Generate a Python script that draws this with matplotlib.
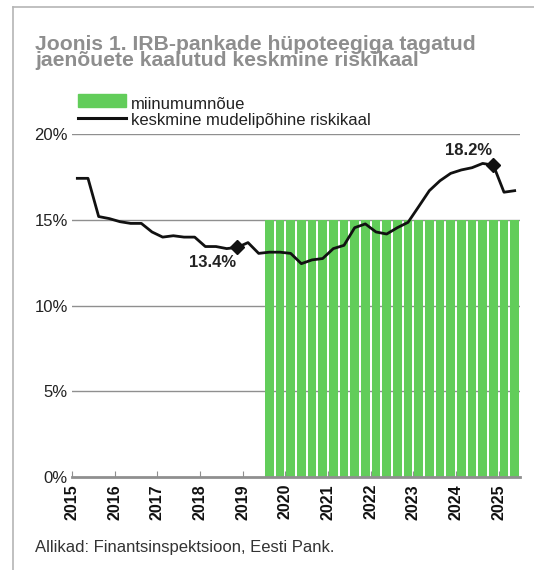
import numpy as np
import matplotlib.pyplot as plt
from matplotlib.patches import Rectangle
from matplotlib.lines import Line2D

plt.rcParams['font.family'] = ['Liberation Sans', 'DejaVu Sans']

# -----------------------------
# DATA (quarterly, 2015Q1 .. 2025Q2)
# -----------------------------

years = list(range(2015, 2026))
quarters = [f"{y}Q{q}" for y in years for q in range(1, 5)][:42]

risk_weight = [17.43, 17.43, 15.2, 15.08, 14.9, 14.8, 14.8, 14.3, 14.0, 14.08,
               14.0, 14.0, 13.45, 13.45, 13.33, 13.4, 13.68, 13.05, 13.12, 13.12,
               13.05, 12.45, 12.67, 12.75, 13.33, 13.52, 14.55, 14.77, 14.3, 14.18,
               14.55, 14.86, 15.78, 16.71, 17.29, 17.72, 17.92, 18.05, 18.3, 18.2,
               16.62, 16.71]

min_req = [np.nan] * 18 + [15.0] * 24

marked = {"2018Q4": "13.4%", "2024Q4": "18.2%"}

yticks = [0, 5, 10, 15, 20]

# -----------------------------
# COLOURS
# -----------------------------

green = "#62cd5a"
grey = "#8f8f8f"
title_grey = "#8e8e8e"

# -----------------------------
# FIGURE
# -----------------------------

W, H = 534, 570
fig = plt.figure(figsize=(W / 100, H / 100), dpi=100)
ax = fig.add_axes([72 / W, 1 - 477 / H, 448 / W, (477 - 134.3) / H])

x = np.arange(len(quarters))

ax.bar(x, min_req, width=0.82, color=green, zorder=2)
ax.plot(x, risk_weight, color="#111111", lw=2.0, zorder=3, solid_joinstyle="round")

for q, txt in marked.items():
    i = quarters.index(q)
    ax.plot(i, risk_weight[i], marker="D", ms=7.5, color="#111111", zorder=4)
    dy = -15 if txt == "13.4%" else 15
    ax.annotate(txt, (i, risk_weight[i]), xytext=(-25, dy), textcoords="offset pixels",
                ha="center", va="center", fontsize=12, fontweight="bold",
                color="#222222", annotation_clip=False)

ax.set_xlim(-0.5, len(quarters) - 0.5)
ax.set_ylim(0, 20)

ax.set_yticks(yticks)
ax.set_yticklabels([f"{v}%" for v in yticks], fontsize=12, color="#222222")
ax.tick_params(axis="y", length=0, pad=3)
for v in yticks[1:]:
    ax.axhline(v, color=grey, lw=1.0, zorder=1)

tick_pos = [4 * k - 0.5 for k in range(len(years))]
ax.set_xticks(tick_pos)
ax.set_xticklabels([str(y) for y in years], rotation=90, fontsize=11.5,
                   fontweight="bold", color="#111111")
ax.tick_params(axis="x", direction="in", length=4, color=grey, pad=5)

for s in ["top", "right", "left"]:
    ax.spines[s].set_visible(False)
ax.spines["bottom"].set_color(grey)
ax.spines["bottom"].set_linewidth(2)
ax.spines["bottom"].set_zorder(5)

# -----------------------------
# TITLE, LEGEND, SOURCE
# -----------------------------

fig.text(35 / W, 1 - 50 / H, "Joonis 1. IRB-pankade hüpoteegiga tagatud",
         fontsize=15.2, fontweight="bold", color=title_grey, va="baseline")
fig.text(35 / W, 1 - 66.5 / H, "jaenõuete kaalutud keskmine riskikaal",
         fontsize=15.2, fontweight="bold", color=title_grey, va="baseline")

fig.add_artist(Rectangle((78 / W, 1 - 106.7 / H), 48 / W, 12.7 / H,
                         transform=fig.transFigure, color=green))
fig.add_artist(Line2D([78 / W, 126 / W], [1 - 117.7 / H, 1 - 117.7 / H],
                      transform=fig.transFigure, color="#111111", lw=2.2))
fig.text(131 / W, 1 - 109 / H, "miinumumnõue", fontsize=12, color="#222222", va="baseline")
fig.text(131 / W, 1 - 125 / H, "keskmine mudelipõhine riskikaal", fontsize=12,
         color="#222222", va="baseline")

fig.text(35 / W, 1 - 552 / H, "Allikad: Finantsinspektsioon, Eesti Pank.",
         fontsize=12, color="#333333", va="baseline")

# frame lines (left and top)
fig.add_artist(Line2D([12.5 / W, 12.5 / W], [0, 1 - 7 / H], transform=fig.transFigure,
                      color="#b5b5b5", lw=1.2))
fig.add_artist(Line2D([12.5 / W, 1], [1 - 7 / H, 1 - 7 / H], transform=fig.transFigure,
                      color="#b5b5b5", lw=1.2))

fig.savefig("out.png", dpi=100)
